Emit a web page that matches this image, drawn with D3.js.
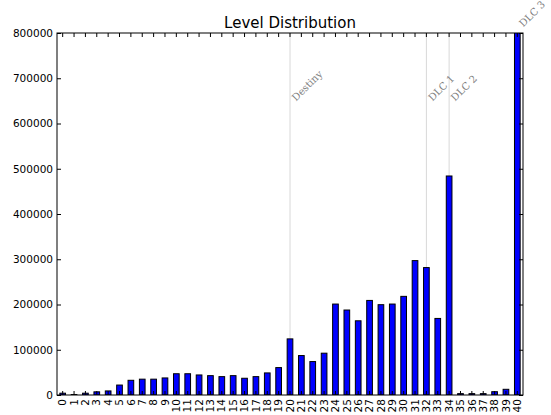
<!DOCTYPE html>
<html>
<head>
<meta charset="utf-8">
<script src="https://cdn.jsdelivr.net/npm/d3@7"></script>
<style>
  body { margin: 0; background: #fff; }
  text { font-family: "DejaVu Sans", sans-serif; }
</style>
</head>
<body>
<div id="chart"></div>
<script>
// level 0..40, player counts
const levels = d3.range(0, 41);
const counts = [
  4000, 1000, 4000, 7000, 9000, 22000, 32500, 35000, 35000, 37700,
  47000, 47000, 44300, 42800, 40600, 42800, 37000, 40600, 48800, 60600,
  124000, 87200, 73900, 92400, 201000, 187800, 164000, 209000, 199600, 201000,
  218000, 297000, 281600, 169200, 484000, 3000, 3000, 3000, 7300, 12600,
  860000
];
const yTicks = [0, 100000, 200000, 300000, 400000, 500000, 600000, 700000, 800000];
// release markers: level, label, label height
const eventLevels = [20, 32, 34, 40];
const eventLabels = ["Destiny", "DLC 1", "DLC 2", "DLC 3"];
const eventLabelY = [648000, 648000, 648000, 812000];

let margin = {top: 33, right: 28, bottom: 20, left: 57},
    width = 551 - margin.left - margin.right,
    height = 395 - margin.top;

let svg = d3.select("#chart")
    .append("svg")
    .attr("width", 551)
    .attr("height", 415)
    .append("g")
    .attr("transform", "translate(" + margin.left + "," + margin.top + ")");

// bars take half of each slot, slots fill the whole width
let x = d3.scaleBand()
    .domain(levels)
    .range([0, width])
    .paddingInner(0.5)
    .paddingOuter(0.25);

let y = d3.scaleLinear()
    .domain([0, 800000])
    .range([height, 0]);

let cx = d => x(d) + x.bandwidth() / 2;

// release lines
svg.append("g")
    .selectAll("line")
    .data(eventLevels)
    .enter()
    .append("line")
    .attr("x1", cx)
    .attr("x2", cx)
    .attr("y1", 0)
    .attr("y2", height)
    .attr("stroke", "#d8d8d8")
    .attr("stroke-width", 1);

// bars (clipped to the plot like matplotlib)
svg.append("clipPath").attr("id", "clip")
    .append("rect").attr("width", width).attr("height", height);

svg.append("g")
    .attr("clip-path", "url(#clip)")
    .selectAll("rect")
    .data(levels)
    .enter()
    .append("rect")
    .attr("x", d => x(d))
    .attr("y", d => y(counts[d]))
    .attr("width", x.bandwidth())
    .attr("height", d => height - y(counts[d]))
    .attr("fill", "#0000ff")
    .attr("stroke", "#000")
    .attr("stroke-width", 1);

// axes, ticks inside on all four sides
let fontSize = "10.5px";
svg.append("g")
    .attr("transform", "translate(0," + height + ")")
    .call(d3.axisBottom(x).tickSize(-4).tickSizeOuter(0).tickPadding(4))
    .call(g => g.select(".domain").remove())
    .selectAll("text")
    .style("font-size", fontSize)
    .attr("fill", "#000")
    .attr("transform", "rotate(-90)")
    .attr("x", -4)
    .attr("y", 0)
    .attr("dy", "0.35em")
    .style("text-anchor", "end");

svg.append("g")
    .call(d3.axisTop(x).tickSize(-4).tickSizeOuter(0).tickFormat(""))
    .call(g => g.select(".domain").remove());

svg.append("g")
    .call(d3.axisLeft(y).tickValues(yTicks).tickSize(-4).tickSizeOuter(0).tickPadding(4).tickFormat(d3.format("d")))
    .call(g => g.select(".domain").remove())
    .selectAll("text")
    .style("font-size", fontSize)
    .attr("fill", "#000");

svg.append("g")
    .attr("transform", "translate(" + width + ",0)")
    .call(d3.axisRight(y).tickValues(yTicks).tickSize(-4).tickSizeOuter(0).tickFormat(""))
    .call(g => g.select(".domain").remove());

svg.selectAll(".tick line").attr("stroke", "#000");

// frame
svg.append("rect")
    .attr("width", width)
    .attr("height", height)
    .attr("fill", "none")
    .attr("stroke", "#000")
    .attr("stroke-width", 1);

// release labels
svg.append("g")
    .selectAll("text")
    .data(eventLevels)
    .enter()
    .append("text")
    .attr("transform", (d, i) => "translate(" + (cx(d) + 6) + "," + y(eventLabelY[i]) + ") rotate(-45)")
    .style("font-family", "'DejaVu Serif', serif")
    .style("font-size", "10px")
    .attr("fill", "#808080")
    .text((d, i) => eventLabels[i]);

// title
svg.append("text")
    .attr("x", width / 2)
    .attr("y", -5)
    .attr("text-anchor", "middle")
    .style("font-size", "15px")
    .attr("fill", "#000")
    .text("Level Distribution");
</script>
</body>
</html>
